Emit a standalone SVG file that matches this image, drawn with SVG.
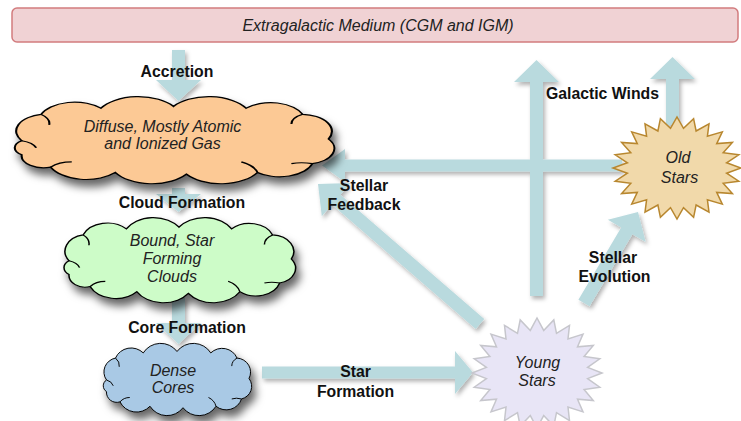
<svg xmlns="http://www.w3.org/2000/svg" width="741" height="421" viewBox="0 0 741 421">
  <defs>
    <filter id="cloudShadow" x="-10%" y="-15%" width="125%" height="145%">
      <feDropShadow dx="4" dy="7" stdDeviation="4" flood-color="#000" flood-opacity="0.6"/>
    </filter>
    <filter id="arrowShadow" x="-20%" y="-20%" width="140%" height="140%">
      <feDropShadow dx="2" dy="3" stdDeviation="2" flood-color="#000" flood-opacity="0.3"/>
    </filter>
    <!-- generic cloud outline in a 200x100 box -->
    <path id="cloudShape" d="M6,52 A19.4,19.4 0 0 1 18,22 A22.6,22.6 0 0 1 55,15 A27,27 0 0 1 100,13 A27,27 0 0 1 145,15 A21.4,21.4 0 0 1 180,22 A19.3,19.3 0 0 1 196,50 A17.8,17.8 0 0 1 186,78 A21.3,21.3 0 0 1 152,88 A26.4,26.4 0 0 1 108,90 A26.4,26.4 0 0 1 64,88 A24.3,24.3 0 0 1 24,82 A13.7,13.7 0 0 1 6,68 A9.6,9.6 0 0 1 6,52 Z"/>
    <path id="cloudCurls" d="M18,22 q6,5 5,12 M180,22 q-7,4 -7,11 M152,88 q-2,-8 -10,-12 M24,82 q5,-6 13,-6 M6,52 q7,2 9,8 M186,78 q-7,-2 -13,0"/>
  </defs>
  <style>
    .lbl { font-family: "Liberation Sans", Arial, sans-serif; font-size: 15.8px; font-weight: bold; fill: #111; text-anchor: middle; }
    .node { font-family: "Liberation Sans", Arial, sans-serif; font-size: 16px; font-style: italic; fill: #222; text-anchor: middle; }
    .arrow { fill: #b9dade; }
    .cloud { stroke: #000; stroke-width: 1.3; vector-effect: non-scaling-stroke; }
    .curl { fill: none; stroke: #000; stroke-width: 1.3; vector-effect: non-scaling-stroke; }
  </style>

  <!-- connectors -->
  <g id="connectors" filter="url(#arrowShadow)">
    <polygon id="accretion" class="arrow" points="172,50 185,50 185,80 201,80 178.5,101 156,80 172,80"/>
    <polygon id="cloud-formation" class="arrow" points="172,188 185,188 185,194 201,194 178.5,212 156,194 172,194"/>
    <polygon id="core-formation" class="arrow" points="172,298 185,298 185,323 201,323 178.5,344 156,323 172,323"/>
    <polygon id="star-formation" class="arrow" points="262,366.5 455,366.5 455,351 473,372.5 455,394 455,378.5 262,378.5"/>
    <polygon id="feedback-old" class="arrow" points="622,159.5 345,159.5 345,149 322,165.5 345,182 345,171.5 622,171.5"/>
    <polygon id="feedback-young" class="arrow" points="484.25,319.08 340.45,194.78 350.6,183.05 318,184 321.8,216.35 331.95,204.62 475.75,328.92"/>
    <polygon id="wind-young" class="arrow" points="530,296 530,82 514,82 536.5,60 559,82 543,82 543,296"/>
    <polygon id="wind-old" class="arrow" points="666,125 666,79 650,79 672.5,57 695,79 679,79 679,125"/>
    <polygon id="stellar-evolution" class="arrow" points="578.4,299.7 621.2,227.6 607.9,219.7 638,212 645.7,242.1 632.4,234.2 589.6,306.3"/>
  </g>

  <!-- connector labels -->
  <g id="connector-labels">
    <text class="lbl" x="177" y="77">Accretion</text>
    <text class="lbl" x="182" y="208">Cloud Formation</text>
    <text class="lbl" x="187" y="333">Core Formation</text>
    <text class="lbl" x="355.5" y="377">Star</text>
    <text class="lbl" x="355.5" y="397">Formation</text>
    <text class="lbl" x="364" y="191">Stellar</text>
    <text class="lbl" x="364" y="210">Feedback</text>
    <text class="lbl" x="602.5" y="99">Galactic Winds</text>
    <text class="lbl" x="613" y="263">Stellar</text>
    <text class="lbl" x="614.5" y="282">Evolution</text>
  </g>

  <!-- extragalactic medium -->
  <g id="medium">
    <rect x="12" y="8" width="726" height="34" rx="5" fill="#f0d2d4" stroke="#d27c7e" stroke-width="1.5"/>
    <text class="node" x="378" y="31">Extragalactic Medium (CGM and IGM)</text>
  </g>

  <!-- diffuse gas cloud -->
  <g id="diffuse-gas">
    <g filter="url(#cloudShadow)">
      <use href="#cloudShape" class="cloud" fill="#fcc995" transform="translate(12,95) scale(1.615,0.88)"/>
    </g>
    <use href="#cloudCurls" class="curl" transform="translate(12,95) scale(1.615,0.88)"/>
    <text class="node" x="162.5" y="132">Diffuse, Mostly Atomic</text>
    <text class="node" x="162.5" y="149">and Ionized Gas</text>
  </g>

  <!-- bound clouds -->
  <g id="bound-clouds">
    <g filter="url(#cloudShadow)">
      <use href="#cloudShape" class="cloud" fill="#cdfcc8" transform="translate(62,216) scale(1.17,0.86)"/>
    </g>
    <use href="#cloudCurls" class="curl" transform="translate(62,216) scale(1.17,0.86)"/>
    <text class="node" x="172" y="246">Bound, Star</text>
    <text class="node" x="172" y="264">Forming</text>
    <text class="node" x="172" y="282">Clouds</text>
  </g>

  <!-- dense cores -->
  <g id="dense-cores">
    <g filter="url(#cloudShadow)">
      <use href="#cloudShape" class="cloud" fill="#a9c9e5" transform="translate(102,342) scale(0.75,0.73)"/>
    </g>
    <use href="#cloudCurls" class="curl" transform="translate(102,342) scale(0.75,0.73)"/>
    <text class="node" x="173" y="376">Dense</text>
    <text class="node" x="173" y="393">Cores</text>
  </g>

  <!-- young stars -->
  <g id="young-stars">
    <polygon fill="#e8e5f6" stroke="#c6c6cc" stroke-width="1.5" points="602,373 587.6,378.6 599.8,387.2 584.1,389.5 593.3,400.5 577.5,399.2 583,411.9 568,407.1 569.5,420.6 556.5,412.7 553.8,426.1 543.7,415.6 537,428 530.3,415.6 520.2,426.1 517.5,412.7 504.5,420.6 506,407.1 491,411.9 496.5,399.2 480.7,400.5 489.9,389.5 474.2,387.2 486.4,378.6 472,373 486.4,367.4 474.2,358.8 489.9,356.5 480.7,345.5 496.5,346.8 491,334.1 506,338.9 504.5,325.4 517.5,333.3 520.2,319.9 530.3,330.4 537,318 543.7,330.4 553.8,319.9 556.5,333.3 569.5,325.4 568,338.9 583,334.1 577.5,346.8 593.3,345.5 584.1,356.5 599.8,358.8 587.6,367.4"/>
    <text class="node" x="537.5" y="368">Young</text>
    <text class="node" x="537" y="386">Stars</text>
  </g>

  <!-- old stars -->
  <g id="old-stars">
    <polygon fill="#f1d9aa" stroke="#b8872f" stroke-width="1.5" points="741,168 726.6,173.2 738.8,181.2 723.2,183.3 732.4,193.5 716.7,192.4 722.3,204.1 707.4,199.7 709,212.2 696.1,205 693.6,217.3 683.5,207.7 677,219 670.5,207.7 660.4,217.3 657.9,205 645,212.2 646.6,199.7 631.7,204.1 637.3,192.4 621.6,193.5 630.8,183.3 615.2,181.2 627.4,173.2 613,168 627.4,162.8 615.2,154.8 630.8,152.7 621.6,142.5 637.3,143.6 631.7,131.9 646.6,136.3 645,123.8 657.9,131 660.4,118.7 670.5,128.3 677,117 683.5,128.3 693.6,118.7 696.1,131 709,123.8 707.4,136.3 722.3,131.9 716.7,143.6 732.4,142.5 723.2,152.7 738.8,154.8 726.6,162.8"/>
    <text class="node" x="678" y="163">Old</text>
    <text class="node" x="679.5" y="183">Stars</text>
  </g>
</svg>
